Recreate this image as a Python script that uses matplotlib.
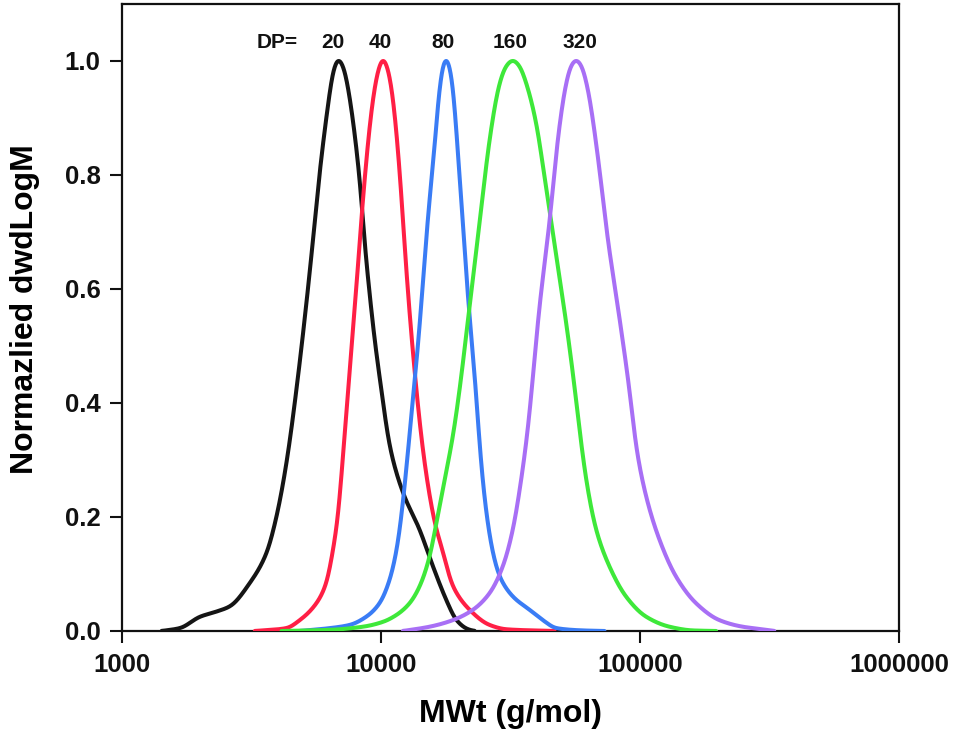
import numpy as np
import matplotlib
matplotlib.use("Agg")
import matplotlib.pyplot as plt

plt.rcParams['font.family'] = ['Liberation Sans', 'DejaVu Sans']
plt.rcParams['font.weight'] = 'bold'

# ---- data (M in g/mol, normalized dw/dlogM) ----
dp20_M = [1423, 1674, 2000, 2318, 2609, 3116, 3614, 3951, 4318, 4719, 5309, 5802,
          6247, 6541, 6839, 7178, 7460, 8036, 8403, 8652, 8989, 9373, 9973, 10804,
          12159, 14102, 15870, 17874, 19537, 21650, 22975]
dp20_y = [0.0, 0.005, 0.025, 0.034, 0.043, 0.084, 0.136, 0.2, 0.294, 0.423, 0.6275, 0.803,
          0.92, 0.98, 1.0, 0.985, 0.95, 0.844, 0.756, 0.674, 0.6, 0.522, 0.43, 0.323,
          0.2416, 0.177, 0.113, 0.054, 0.019, 0.003, 0.0]

dp40_M = [3258, 4318, 4859, 5636, 6157, 6530, 6826, 7115, 7407, 8036, 8521, 9314, 9755,
          10179, 10661, 11126, 11806, 12530, 13490, 14445, 15410, 16358, 17100, 18952,
          21981, 26254, 30449, 46773]
dp40_y = [0.0, 0.005, 0.019, 0.0485, 0.084, 0.142, 0.2, 0.3, 0.4, 0.6, 0.756, 0.93, 0.98,
          1.0, 0.98, 0.93, 0.803, 0.6275, 0.452, 0.323, 0.2356, 0.177, 0.148, 0.078,
          0.037, 0.0105, 0.003, 0.0]

dp80_M = [4859, 6341, 7573, 8785, 9886, 10804, 11569, 11989, 12599, 13251, 13914, 14481,
          15410, 15967, 16590, 17145, 17763, 18404, 18952, 19815, 20567, 21501, 23333,
          24024, 25497, 27033, 28700, 32291, 37462, 42153, 47477, 60117, 72895]
dp80_y = [0.0, 0.005, 0.0105, 0.025, 0.0485, 0.089, 0.148, 0.2, 0.294, 0.4, 0.5, 0.6,
          0.756, 0.82, 0.92, 0.975, 1.0, 0.985, 0.95, 0.832, 0.73, 0.6, 0.41,
          0.323, 0.206, 0.136, 0.095, 0.06, 0.037, 0.019, 0.005, 0.001, 0.0]

dp160_M = [4130, 6341, 8521, 10179, 11470, 12901, 14102, 15410, 16358, 17609, 18952, 20117,
           21981, 24024, 26254, 28700, 30400, 32291, 34263, 36367, 39747, 43451, 47477,
           51880, 55847, 58400, 61965, 67718, 76208, 88393, 105560, 129840, 159690, 196650]
dp160_y = [0.0, 0.002, 0.0075, 0.016, 0.028, 0.0485, 0.078, 0.13, 0.189, 0.265, 0.341, 0.423,
           0.569, 0.715, 0.861, 0.96, 0.99, 1.0, 0.99, 0.96, 0.89, 0.774, 0.657,
           0.54, 0.429, 0.353, 0.265, 0.177, 0.113, 0.06, 0.025, 0.0075, 0.001, 0.0]

dp320_M = [12159, 15410, 18952, 22637, 26254, 29549, 32291, 34787, 36889, 40926,
           44739, 48149, 51880, 54136, 56700, 59430, 62835, 68700, 75080, 82030, 91010,
           96610, 105560, 118800, 137800, 164600, 202400, 248900, 297300, 329800]
dp320_y = [0.0, 0.0075, 0.019, 0.037, 0.066, 0.113, 0.177, 0.265, 0.353, 0.569,
           0.715, 0.861, 0.96, 0.99, 1.0, 0.99, 0.95, 0.832, 0.686, 0.569, 0.423,
           0.323, 0.2356, 0.16, 0.095, 0.0485, 0.019, 0.0075, 0.003, 0.0]

series_M = [dp20_M, dp40_M, dp80_M, dp160_M, dp320_M]
series_y = [dp20_y, dp40_y, dp80_y, dp160_y, dp320_y]
series_colors = ['#151515', '#ff1f45', '#3a7cf5', '#3ee83a', '#a86ff5']

dp_labels = ['DP=', '20', '40', '80', '160', '320']
dp_label_M = [3960, 6513, 9920, 17390, 31450, 58500]

x_ticks = [1000, 10000, 100000, 1000000]
x_ticklabels = ['1000', '10000', '100000', '1000000']
y_ticks = [0.0, 0.2, 0.4, 0.6, 0.8, 1.0]


def smooth_curve(M, y, n=900, sigma=0.009):
    """Monotone cubic (PCHIP) interpolation in log10(M) followed by light smoothing."""
    lm = np.log10(np.asarray(M, dtype=float))
    yv = np.asarray(y, dtype=float)
    fine = np.linspace(lm[0], lm[-1], n)
    h = np.diff(lm)
    d = np.diff(yv) / h
    m = np.zeros_like(yv)
    m[0], m[-1] = d[0], d[-1]
    for i in range(1, len(yv) - 1):
        if d[i - 1] * d[i] <= 0:
            m[i] = 0.0
        else:
            w1 = 2 * h[i] + h[i - 1]
            w2 = h[i] + 2 * h[i - 1]
            m[i] = (w1 + w2) / (w1 / d[i - 1] + w2 / d[i])
    idx = np.clip(np.searchsorted(lm, fine) - 1, 0, len(lm) - 2)
    t = (fine - lm[idx]) / h[idx]
    h00 = 2 * t**3 - 3 * t**2 + 1
    h10 = t**3 - 2 * t**2 + t
    h01 = -2 * t**3 + 3 * t**2
    h11 = t**3 - t**2
    yf = h00 * yv[idx] + h10 * h[idx] * m[idx] + h01 * yv[idx + 1] + h11 * h[idx] * m[idx + 1]
    step = fine[1] - fine[0]
    k = int(np.ceil(4 * sigma / step))
    kern = np.exp(-0.5 * (np.arange(-k, k + 1) * step / sigma) ** 2)
    kern /= kern.sum()
    padded = np.concatenate([np.full(k, yf[0]), yf, np.full(k, yf[-1])])
    ys = np.convolve(padded, kern, mode='valid')
    ys = ys / ys.max() * yv.max()
    return 10**fine, np.clip(ys, 0, None)


# ---- figure ----
fig = plt.figure(figsize=(9.54, 7.36), dpi=100)
ax = fig.add_axes([122 / 954, (736 - 631) / 736, (899 - 122) / 954, (631 - 4) / 736])

for M, y, c in zip(series_M, series_y, series_colors):
    xs, ys = smooth_curve(M, y)
    ax.plot(xs, ys, color=c, lw=2.9, solid_capstyle='round', zorder=3)

ax.set_xscale('log')
ax.set_xlim(1000, 1000000)
ax.set_ylim(0, 1.1)
ax.set_xticks(x_ticks)
ax.set_xticklabels(x_ticklabels)
ax.xaxis.set_minor_locator(matplotlib.ticker.NullLocator())
ax.set_yticks(y_ticks)
ax.set_yticklabels([f'{v:.1f}' for v in y_ticks])

for s in ax.spines.values():
    s.set_linewidth(1.6)
    s.set_color('#111111')
ax.tick_params(axis='both', direction='out', length=8.5, width=1.5, pad=7,
               labelsize=18.5, colors='#111111')
for lab in ax.get_xticklabels() + ax.get_yticklabels():
    lab.set_fontweight('bold')

ax.set_xlabel('MWt (g/mol)', fontsize=23, fontweight='bold')
ax.set_ylabel('Normazlied dwdLogM', fontsize=23, fontweight='bold')
ax.xaxis.set_label_coords(0.5, -0.108)
ax.yaxis.set_label_coords(-0.1055, 0.513)

for txt, xm in zip(dp_labels, dp_label_M):
    ax.text(xm, 1.032, txt, ha='center', va='center', fontsize=15, fontweight='bold',
            color='#111111')

fig.savefig('out.png', dpi=100)
